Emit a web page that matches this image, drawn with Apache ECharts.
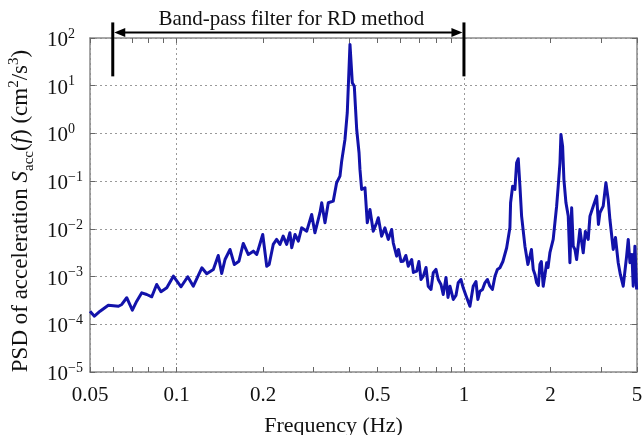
<!DOCTYPE html>
<html><head><meta charset="utf-8">
<script src="https://cdn.jsdelivr.net/npm/echarts@6/dist/echarts.min.js"></script>
<style>html,body{margin:0;padding:0;background:#fff}#c{width:644px;height:435px}</style>
</head><body><div id="c"></div>
<script>
// Main trace
const freq = [0.050,0.0518,0.0542,0.0579,0.0628,0.0645,0.0671,0.0702,0.0727,0.0757,0.0788,0.0820,0.0853,0.0883,0.0925,0.0975,0.1037,0.1094,0.1144,0.1225,0.1274,0.1343,0.1397,0.1436,0.1475,0.1535,0.1589,0.1649,0.1707,0.1778,0.1850,0.1901,0.1925,0.1995,0.206,0.210,0.217,0.223,0.229,0.235,0.2417,0.248,0.2517,0.2584,0.2653,0.2725,0.2838,0.2953,0.303,0.3155,0.320,0.3285,0.3373,0.351,0.3606,0.3704,0.3755,0.3855,0.3927,0.4013,0.4088,0.4154,0.4235,0.4315,0.4347,0.4406,0.4525,0.461,0.471,0.4835,0.497,0.5035,0.517,0.531,0.5385,0.5454,0.5604,0.5676,0.5832,0.615,0.640,0.658,0.685,0.722,0.751,0.782,0.814,0.847,0.894,0.918,0.955,0.994,1.049,1.077,1.137,1.183,1.231,1.282,1.334,1.408,1.445,1.453,1.477,1.504,1.525,1.545,1.566,1.587,1.630,1.697,1.742,1.790,1.838,1.887,1.940,1.991,2.044,2.101,2.128,2.158,2.175,2.204,2.227,2.264,2.306,2.337,2.370,2.400,2.466,2.532,2.600,2.706,2.744,2.817,2.895,2.972,3.051,3.118,3.176,3.220,3.306,3.441,3.582,3.681,3.729,3.780,3.881,3.934,3.988];
const psd = [1.88e-4,1.48e-4,1.88e-4,2.51e-4,2.39e-4,2.60e-4,3.60e-4,1.98e-4,3.05e-4,4.57e-4,4.21e-4,3.77e-4,6.83e-4,4.80e-4,5.82e-4,1.02e-3,6.11e-4,9.9e-4,6.29e-4,1.53e-3,1.15e-3,1.41e-3,2.77e-3,1.16e-3,2.28e-3,3.70e-3,1.79e-3,2.10e-3,4.94e-3,2.90e-3,3.41e-3,2.90e-3,3.70e-3,7.63e-3,1.65e-3,1.79e-3,4.71e-3,6.0e-3,4.71e-3,7.03e-3,4.71e-3,8.28e-3,4.02e-3,7.63e-3,5.52e-3,1.05e-2,8.95e-3,2.0e-2,8.28e-3,2.18e-2,3.52e-2,1.34e-2,3.52e-2,3.81e-2,9.25e-2,0.127,0.263,0.748,2.72,73.4,11.6,9.8,1.21,0.394,0.176,6.70e-2,7.27e-2,1.34e-2,2.55e-2,8.95e-3,1.34e-2,1.71e-2,7.03e-3,1.05e-2,9.71e-3,6.0e-3,9.71e-3,5.11e-3,2.68e-3,2.10e-3,1.65e-3,2.28e-3,1.30e-3,1.02e-3,6.29e-4,1.20e-3,8.69e-4,4.21e-4,6.29e-4,3.31e-4,7.41e-4,5.82e-4,2.39e-4,6.29e-4,4.94e-4,7.41e-4,6.29e-4,1.02e-3,1.53e-3,4.02e-3,1.05e-2,3.52e-2,7.85e-2,6.70e-2,0.243,0.295,7.85e-2,1.85e-2,4.34e-3,2.68e-3,1.41e-3,7.41e-4,1.79e-3,6.29e-4,1.95e-3,3.16e-3,6.0e-3,2.99e-2,7.85e-2,0.243,0.953,0.542,0.109,3.52e-2,1.85e-2,1.95e-3,2.77e-2,4.34e-3,2.28e-3,9.71e-3,3.16e-3,6.0e-3,1.85e-2,2.99e-2,4.85e-2,2.18e-2,2.99e-2,9.25e-2,4.13e-2,1.57e-2,3.70e-3,1.95e-3,6.29e-4,2.68e-3,6.0e-3,1.95e-3,6.29e-4,4.34e-3,5.37e-4];
// Extra samples in the dense noisy stretches
const freqFine = [0.592,0.604,0.628,0.667,0.697,0.709,0.738,0.768,0.799,0.832,0.866,0.880,0.938,0.976,1.016,1.101,1.118,1.160,1.207,1.256,1.307,1.366,1.669,1.717,1.766,1.815,1.859,1.914,1.961,2.433,2.645,2.937,3.366,3.50,3.84];
const psdFine = [3.70e-3,2.07e-3,2.77e-3,1.22e-3,2.07e-3,8.69e-4,1.55e-3,5.37e-4,1.41e-3,6.83e-4,9.57e-4,3.65e-4,4.02e-4,8.69e-4,4.02e-4,7.89e-4,3.31e-4,5.37e-4,8.69e-4,5.37e-4,1.41e-3,2.07e-3,1.79e-3,3.70e-3,1.11e-3,6.51e-4,2.07e-3,1.11e-3,1.55e-3,3.70e-3,8.82e-3,1.24e-2,6.6e-3,1.11e-3,2.90e-3];
const xTickValues = [0.05, 0.1, 0.2, 0.5, 1, 2, 4];
const xTickLabels = ['0.05', '0.1', '0.2', '0.5', '1', '2', '5'];
const xMinorTicks = [0.05,0.06,0.07,0.08,0.09,0.1,0.2,0.3,0.4,0.5,0.6,0.7,0.8,0.9,1,2,3,4];
const xRange = [0.05, 4];
const yRange = [1e-5, 1e2];
const bandEdges = [0.06, 1];
const bandBarY = [212, 15.7];
const bandArrowY = 131;
const bandLabel = 'Band-pass filter for RD method';

const FONT = 'Liberation Serif';
const frame = '#8a8a8a';
const chart = echarts.init(document.getElementById('c'), null, {renderer: 'canvas'});

const seriesData = freq.map((f, i) => [f, psd[i]])
  .concat(freqFine.map((f, i) => [f, psdFine[i]]))
  .sort((a, b) => a[0] - b[0]);

function xLabel(v) {
  let best = 0, bd = Infinity;
  xTickValues.forEach((t, i) => { const d = Math.abs(Math.log10(v) - Math.log10(t)); if (d < bd) { bd = d; best = i; } });
  return xTickLabels[best];
}
function yLabel(v) {
  const e = Math.round(Math.log10(v));
  return '{b|10}{s|' + (e < 0 ? '\u2212' + (-e) : e) + '}';
}
const baseX = {type: 'log', logBase: 10, min: xRange[0], max: xRange[1], gridIndex: 0};
const option = {
  animation: false,
  backgroundColor: '#fff',
  grid: {left: 90, right: 7, top: 38, bottom: 63, containLabel: false, outerBoundsMode: 'none'},
  xAxis: [
    Object.assign({}, baseX, {
      position: 'bottom',
      axisLine: {show: true, lineStyle: {color: frame, width: 1.5}},
      axisTick: {show: true, inside: true, length: 5, customValues: xMinorTicks, lineStyle: {color: '#666'}},
      axisLabel: {show: true, customValues: xTickValues, formatter: xLabel, margin: 13,
        fontFamily: FONT, fontSize: 21, color: '#111'},
      splitLine: {show: false},
      name: 'Frequency (Hz)', nameLocation: 'middle', nameGap: 43,
      nameTextStyle: {fontFamily: FONT, fontSize: 22, color: '#111', padding: [0, 60, 0, 0]}
    }),
    Object.assign({}, baseX, {
      position: 'top',
      axisLine: {show: true, lineStyle: {color: frame, width: 1.5}},
      axisTick: {show: true, inside: true, length: 5, customValues: xMinorTicks, lineStyle: {color: '#666'}},
      axisLabel: {show: false},
      splitLine: {show: false}
    }),
    Object.assign({}, baseX, {
      position: 'bottom',
      axisLine: {show: false}, axisTick: {show: false}, axisLabel: {show: false},
      splitLine: {show: true, lineStyle: {color: '#9a9a9a', type: [2, 3], width: 1}}
    })
  ],
  yAxis: [
    {
      type: 'log', logBase: 10, min: yRange[0], max: yRange[1], position: 'left',
      axisLine: {show: true, lineStyle: {color: frame, width: 1.5}},
      axisTick: {show: true, inside: true, length: 5, lineStyle: {color: '#666'}},
      axisLabel: {show: true, formatter: yLabel, align: 'left', margin: 43,
        rich: {
          b: {fontFamily: FONT, fontSize: 21, color: '#111', lineHeight: 26, verticalAlign: 'bottom'},
          s: {fontFamily: FONT, fontSize: 14, color: '#111', lineHeight: 26, verticalAlign: 'bottom', padding: [0, 0, 10, 0]}
        }},
      splitLine: {show: true, lineStyle: {color: '#9a9a9a', type: [2, 3], width: 1}},
      name: '{n|PSD of acceleration }{i|S}{sub|acc}{n|(}{i|f}{n|) (cm}{sup|2}{n|/s}{sup|3}{n|)}',
      nameLocation: 'middle', nameRotate: 90, nameGap: 51,
      nameTextStyle: {
        padding: [0, 12, 0, 0],
        rich: {
          n: {fontFamily: FONT, fontSize: 23, color: '#111', lineHeight: 30, verticalAlign: 'middle'},
          i: {fontFamily: FONT, fontSize: 23, fontStyle: 'italic', color: '#111', lineHeight: 30, verticalAlign: 'middle'},
          sub: {fontFamily: FONT, fontSize: 15, color: '#111', lineHeight: 17, verticalAlign: 'bottom'},
          sup: {fontFamily: FONT, fontSize: 15, color: '#111', lineHeight: 17, verticalAlign: 'top'}
        }
      }
    },
    {
      type: 'log', logBase: 10, min: yRange[0], max: yRange[1], position: 'right',
      axisLine: {show: true, lineStyle: {color: frame, width: 1.5}},
      axisTick: {show: true, inside: true, length: 5, lineStyle: {color: '#666'}},
      axisLabel: {show: false}, splitLine: {show: false}
    }
  ],
  series: [{
    type: 'line',
    xAxisIndex: 0, yAxisIndex: 0,
    data: seriesData,
    showSymbol: false, symbol: 'none',
    lineStyle: {color: '#1212aa', width: 3, join: 'round'},
    clip: true
  }]
};
chart.setOption(option);

// Band-pass annotation placed through the chart's own scales
const finder = {xAxisIndex: 0, yAxisIndex: 0};
const pTopL = chart.convertToPixel(finder, [bandEdges[0], bandBarY[0]]);
const pBotL = chart.convertToPixel(finder, [bandEdges[0], bandBarY[1]]);
const pTopR = chart.convertToPixel(finder, [bandEdges[1], bandBarY[0]]);
const pBotR = chart.convertToPixel(finder, [bandEdges[1], bandBarY[1]]);
const pArrL = chart.convertToPixel(finder, [bandEdges[0], bandArrowY]);
const pArrR = chart.convertToPixel(finder, [bandEdges[1], bandArrowY]);
const headL = 11, headW = 4.5;
chart.setOption({
  graphic: [
    {type: 'line', shape: {x1: pTopL[0], y1: pTopL[1], x2: pBotL[0], y2: pBotL[1]}, style: {stroke: '#000', lineWidth: 3}, z: 100},
    {type: 'line', shape: {x1: pTopR[0], y1: pTopR[1], x2: pBotR[0], y2: pBotR[1]}, style: {stroke: '#000', lineWidth: 3}, z: 100},
    {type: 'line', shape: {x1: pArrL[0] + headL, y1: pArrL[1], x2: pArrR[0] - headL, y2: pArrR[1]}, style: {stroke: '#000', lineWidth: 2}, z: 100},
    {type: 'polygon', shape: {points: [[pArrL[0] + 1.5, pArrL[1]], [pArrL[0] + 1.5 + headL, pArrL[1] - headW], [pArrL[0] + 1.5 + headL, pArrL[1] + headW]]}, style: {fill: '#000'}, z: 100},
    {type: 'polygon', shape: {points: [[pArrR[0] - 1.5, pArrR[1]], [pArrR[0] - 1.5 - headL, pArrR[1] - headW], [pArrR[0] - 1.5 - headL, pArrR[1] + headW]]}, style: {fill: '#000'}, z: 100},
    {type: 'text', x: (pArrL[0] + pArrR[0]) / 2 + 3, y: pArrL[1] - 2,
      style: {text: bandLabel, textAlign: 'center', textVerticalAlign: 'bottom', font: '21px "Liberation Serif"', fill: '#111'}, z: 100}
  ]
});
</script>
</body></html>
